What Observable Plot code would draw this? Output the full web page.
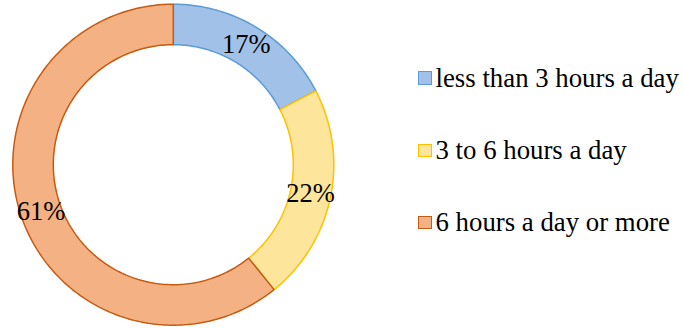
<!DOCTYPE html>
<html><head><meta charset="utf-8">
<script src="https://cdn.jsdelivr.net/npm/d3@7"></script>
<script src="https://cdn.jsdelivr.net/npm/@observablehq/plot@0.6"></script>
<style>
body{margin:0;background:#fff;}
#wrap{position:relative;width:683px;height:329px;}
#legend{position:absolute;left:418px;top:0;font-family:"Liberation Serif","Times New Roman",serif;font-size:26.8px;color:#000;}
.item{position:absolute;left:0;height:30px;display:flex;align-items:center;white-space:nowrap;}
.sw{width:11.5px;height:11.5px;border:1.75px solid;margin-right:4px;box-sizing:content-box;}
</style></head><body><div id="wrap"><div id="chart"></div><div id="legend"></div></div>
<script>
const categories = ["less than 3 hours a day", "3 to 6 hours a day", "6 hours a day or more"];
const values = [17.4, 21.8, 60.8];
const labels = ["17%", "22%", "61%"];
const fills = ["#a2c1e9", "#fde59b", "#f4b183"];
const strokes = ["#5b9bd5", "#ffc000", "#c55a11"];

// layout (pixels)
const W = 683, H = 329, cx = 172.8, cy = 164.2, R = 160.5, r = 120;
const inner = r / R;

const arcs = d3.pie().sort(null).value(d => d)(values);
function ring(a0, a1) {
  const n = Math.max(8, Math.ceil((a1 - a0) / (2 * Math.PI) * 360));
  const pts = [];
  for (let i = 0; i <= n; i++) { const a = a0 + (a1 - a0) * i / n; pts.push({x: Math.sin(a), y: Math.cos(a)}); }
  for (let i = n; i >= 0; i--) { const a = a0 + (a1 - a0) * i / n; pts.push({x: inner * Math.sin(a), y: inner * Math.cos(a)}); }
  return pts;
}
const mid = (1 + inner) / 2;
const labelData = arcs.map((a, i) => {
  const m = (a.startAngle + a.endAngle) / 2;
  return {x: mid * Math.sin(m), y: mid * Math.cos(m), label: labels[i]};
});

const marks = arcs.map((a, i) => Plot.line(ring(a.startAngle, a.endAngle), {
  x: "x", y: "y", curve: "linear-closed", fill: fills[i], stroke: strokes[i], strokeWidth: 1.5, strokeLinejoin: "miter"
}));
marks.push(Plot.text(labelData, {x: "x", y: "y", text: "label", fontSize: 26.5, fontFamily: "Liberation Serif, Times New Roman, serif", fill: "#000", lineAnchor: "middle"}));

const chart = Plot.plot({
  width: W, height: H, margin: 0,
  x: {domain: [-cx / R, (W - cx) / R], axis: null},
  y: {domain: [-(H - cy) / R, cy / R], axis: null},
  style: {background: "transparent"},
  marks
});
document.getElementById("chart").append(chart);

const tops = [78, 150.5, 222.5];
const legend = document.getElementById("legend");
categories.forEach((c, i) => {
  const it = document.createElement("div");
  it.className = "item";
  it.style.top = (tops[i] - 15) + "px";
  const sw = document.createElement("span");
  sw.className = "sw";
  sw.style.background = fills[i];
  sw.style.borderColor = strokes[i];
  const t = document.createElement("span");
  t.textContent = c;
  it.append(sw, t);
  legend.append(it);
});
</script></body></html>
